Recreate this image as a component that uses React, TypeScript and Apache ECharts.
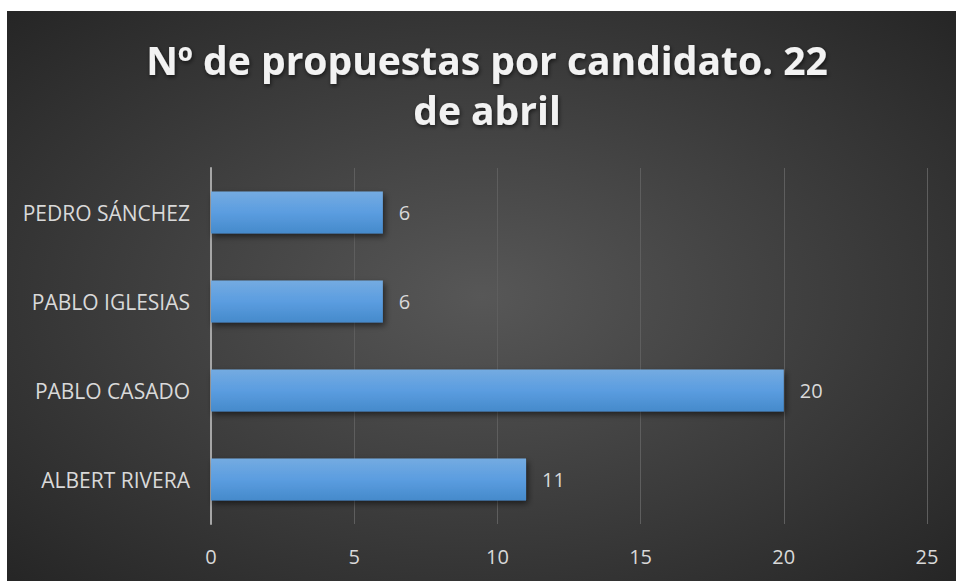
import React, { useEffect, useRef } from "react";
import * as echarts from "echarts";

const titleLines = ["Nº de propuestas por candidato. 22", "de abril"];
const categories = ["ALBERT RIVERA", "PABLO CASADO", "PABLO IGLESIAS", "PEDRO SÁNCHEZ"];
const values = [11, 20, 6, 6];
const xMin = 0;
const xMax = 25;
const xInterval = 5;

export default function App() {
  const ref = useRef<HTMLDivElement>(null);
  useEffect(() => {
    if (!ref.current) return;
    const chart = echarts.init(ref.current, null, { renderer: "svg" });
    const titleStyle = {
      fill: "#f2f2f2",
      fontFamily: "Open Sans",
      fontWeight: "bold",
      fontSize: 39,
      textAlign: "center",
      textVerticalAlign: "middle",
      textShadowColor: "rgba(0,0,0,0.6)",
      textShadowBlur: 4,
      textShadowOffsetX: 1,
      textShadowOffsetY: 2,
    };
    chart.setOption({
      animation: false,
      backgroundColor: "#ffffff",
      graphic: [
        {
          type: "rect",
          z: -10,
          silent: true,
          shape: { x: 7, y: 11, width: 949, height: 570 },
          style: {
            fill: new echarts.graphic.RadialGradient(0.5, 0.5, 0.7, [
              { offset: 0, color: "#575757" },
              { offset: 1, color: "#262626" },
            ]),
          },
        },
        {
          type: "text",
          x: 487,
          y: 59,
          silent: true,
          style: { ...titleStyle, text: titleLines[0] },
        },
        {
          type: "text",
          x: 487,
          y: 109,
          silent: true,
          style: { ...titleStyle, text: titleLines[1] },
        },
      ],
      grid: { left: 211, right: 30, top: 168, bottom: 57, containLabel: false },
      xAxis: {
        type: "value",
        min: xMin,
        max: xMax,
        interval: xInterval,
        axisLine: { show: false },
        axisTick: { show: false },
        splitLine: { show: true, lineStyle: { color: "#5e5e5e", width: 1 } },
        axisLabel: {
          color: "#d9d9d9",
          fontFamily: "Open Sans",
          fontSize: 20,
          margin: 22,
        },
      },
      yAxis: {
        type: "category",
        data: categories,
        axisLine: { show: true, lineStyle: { color: "#a6a6a6", width: 2 } },
        axisTick: { show: false },
        axisLabel: {
          color: "#d9d9d9",
          fontFamily: "Open Sans",
          fontSize: 21,
          margin: 21,
        },
      },
      series: [
        {
          type: "bar",
          data: values,
          barCategoryGap: "53%",
          itemStyle: {
            color: new echarts.graphic.LinearGradient(0, 0, 0, 1, [
              { offset: 0, color: "#74abe1" },
              { offset: 0.5, color: "#5b9de0" },
              { offset: 1, color: "#458acb" },
            ]),
            shadowColor: "rgba(0,0,0,0.55)",
            shadowBlur: 6,
            shadowOffsetX: 2,
            shadowOffsetY: 3,
          },
          label: {
            show: true,
            position: "right",
            distance: 16,
            color: "#d9d9d9",
            fontFamily: "Open Sans",
            fontSize: 20,
          },
        },
      ],
    });
    return () => chart.dispose();
  }, []);
  return (
    <div
      ref={ref}
      style={{ position: "fixed", left: 0, top: 0, width: 957, height: 581 }}
    />
  );
}
